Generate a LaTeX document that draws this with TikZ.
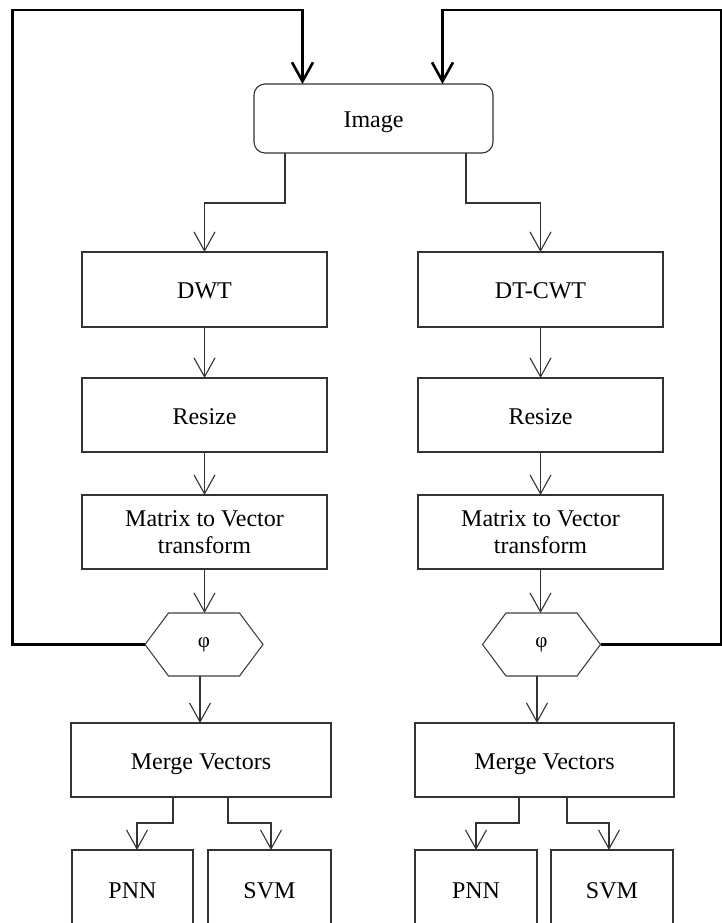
\documentclass[tikz,border=0pt]{standalone}
\usepackage{fontspec}
\setmainfont{Liberation Serif}
\usetikzlibrary{arrows.meta}
\begin{document}
\begin{tikzpicture}[x=1pt,y=-1pt,
  box/.style={draw=black!80, line width=1.1pt, minimum width=245pt, minimum height=75pt,
    inner sep=0pt, outer sep=0pt, font=\fontsize{24}{27}\selectfont, align=center},
  oneline/.style={text height=20pt, text depth=2pt},
  smallbox/.style={box, oneline, minimum width=121pt, minimum height=78pt},
  mergebox/.style={box, oneline, minimum width=260pt, minimum height=74pt},
  hexnode/.style={minimum width=118pt, minimum height=63pt, inner sep=0pt, outer sep=0pt,
    font=\fontsize{21}{24}\selectfont},
  hexline/.style={draw=black!75, line width=1.1pt},
  arr/.style={draw=black!80, line width=1.1pt, -{Straight Barb[length=19pt, width=21pt]}},
  fb/.style={draw=black, line width=2.6pt, -{Straight Barb[length=19pt, width=21pt]}}
]
\useasboundingbox (0,0) rectangle (722,923);
\clip (0,0) rectangle (722,923);

% nodes
\node[box, oneline, rounded corners=11pt, minimum width=239pt, minimum height=69pt] (img) at (373.5,118.5) {Image};
\node[box, oneline] (dwt) at (204.5,289.5) {DWT};
\node[box, oneline] (dtcwt) at (540.5,289.5) {DT-CWT};
\node[box, oneline, minimum height=74pt] (rs1) at (204.5,415) {Resize};
\node[box, oneline, minimum height=74pt] (rs2) at (540.5,415) {Resize};
\node[box, minimum height=74pt] (mv1) at (204.5,532) {Matrix to Vector\\transform};
\node[box, minimum height=74pt] (mv2) at (540.5,532) {Matrix to Vector\\transform};
\node[hexnode] (hex1) at (204,644.5) {φ};
\node[hexnode] (hex2) at (541.5,644.5) {φ};
\node[mergebox] (mg1) at (201,760) {Merge Vectors};
\node[mergebox, minimum width=259pt] (mg2) at (544.5,760) {Merge Vectors};
\node[smallbox] (pnn1) at (132.5,889) {PNN};
\node[smallbox, minimum width=123pt] (svm1) at (269.5,889) {SVM};
\node[smallbox, minimum width=122pt] (pnn2) at (476,889) {PNN};
\node[smallbox, minimum width=122pt] (svm2) at (612,889) {SVM};

% hexagon outlines
\foreach \h in {hex1,hex2}{
  \draw[hexline] (\h.west) -- ([xshift=23.5pt]\h.north west) -- ([xshift=-23.5pt]\h.north east)
    -- (\h.east) -- ([xshift=-23.5pt]\h.south east) -- ([xshift=23.5pt]\h.south west) -- cycle;
}

% connectors
\draw[arr] ([xshift=-88.5pt]img.south) -- ++(0,50) -| (dwt.north);
\draw[arr] ([xshift=92.5pt]img.south) -- ++(0,50) -| (dtcwt.north);
\draw[arr] (dwt.south) -- (rs1.north);
\draw[arr] (dtcwt.south) -- (rs2.north);
\draw[arr] (rs1.south) -- (mv1.north);
\draw[arr] (rs2.south) -- (mv2.north);
\draw[arr] (mv1.south) -- (mv1.south |- hex1.north);
\draw[arr] (mv2.south) -- (mv2.south |- hex2.north);
\draw[arr] ([xshift=-4pt]hex1.south) -- ([xshift=-4pt]hex1.south |- mg1.north);
\draw[arr] ([xshift=-4.5pt]hex2.south) -- ([xshift=-4.5pt]hex2.south |- mg2.north);
\draw[arr] ([xshift=-28pt]mg1.south) -- ++(0,26) -| ([xshift=4.5pt]pnn1.north);
\draw[arr] ([xshift=27pt]mg1.south) -- ++(0,26) -| ([xshift=1.5pt]svm1.north);
\draw[arr] ([xshift=-25.5pt]mg2.south) -- ++(0,26) -| (pnn2.north);
\draw[arr] ([xshift=22.5pt]mg2.south) -- ++(0,26) -| ([xshift=-3pt]svm2.north);

% feedback loops
\coordinate (fl) at (12.5,10);
\coordinate (fr) at (721,10);
\draw[fb] (hex1.west) -| (fl) -| ([xshift=-71pt]img.north);
\draw[fb] (hex2.east) -| (fr) -| ([xshift=69pt]img.north);
\end{tikzpicture}
\end{document}
